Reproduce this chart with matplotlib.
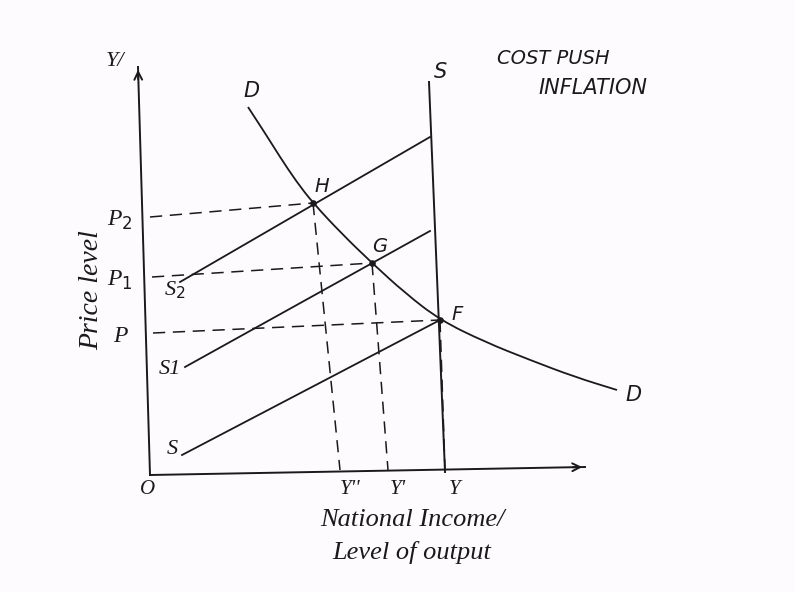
import numpy as np
import matplotlib
matplotlib.use("Agg")
import matplotlib.pyplot as plt
from matplotlib.path import Path
from matplotlib.patches import PathPatch

# ---- diagram data (origin O at (0,0)) ----
demand_x = [98, 115, 130, 146, 163, 192, 222, 255, 290, 335, 380, 425, 467]
demand_y = [365, 339, 315, 291, 269, 238, 209, 179, 152, 130, 112, 95, 82]

supply_names = ["S2", "S1", "S"]
supply_x = [[30, 280], [35, 280], [32, 290]]
supply_y = [[190, 335], [105, 241], [17, 152]]

vertical_s_x = [279, 295]
vertical_s_y = [390, 0]

eq_names = ["H", "G", "F"]
eq_x = [163, 222, 290]
eq_y = [269, 209, 152]

price_labels = ["P$_2$", "P$_1$", "P"]
price_axis_x = [0, 2, 3]
price_axis_y = [255, 195, 139]

output_labels = ["Y''", "Y'", "Y"]
output_axis_x = [190, 238, 295]

yaxis_x = [0, -12]
yaxis_y = [-3, 405]
xaxis_x = [0, 435]
xaxis_y = [-3, 5]

BG = "#fdfbfd"
INK = "#1a1a1a"

fig = plt.figure(figsize=(7.95, 5.92), dpi=100, facecolor=BG)
ax = fig.add_axes([0, 0, 1, 1])
ax.set_facecolor(BG)
ax.set_xlim(-150, 645)
ax.set_ylim(-120, 472)
ax.axis("off")

hand = dict(family="Liberation Serif", style="italic", color=INK)
caps = dict(family="DejaVu Sans", style="oblique", color=INK)

# axes with arrows
ax.plot(yaxis_x, yaxis_y, color=INK, lw=1.4)
ax.annotate("", xy=(yaxis_x[1], yaxis_y[1]), xytext=(yaxis_x[1] + 0.3, yaxis_y[1] - 15),
            arrowprops=dict(arrowstyle="->", color=INK, lw=1.4, mutation_scale=14))
ax.plot(xaxis_x, xaxis_y, color=INK, lw=1.4)
ax.annotate("", xy=(xaxis_x[1], xaxis_y[1]), xytext=(xaxis_x[1] - 15, xaxis_y[1] - 0.3),
            arrowprops=dict(arrowstyle="->", color=INK, lw=1.4, mutation_scale=14))

# demand curve: smooth quadratic path through the read points (midpoint smoothing)
pts = list(zip(demand_x, demand_y))
verts = [pts[0]]
codes = [Path.MOVETO]
for i in range(1, len(pts) - 1):
    mid = ((pts[i][0] + pts[i + 1][0]) / 2, (pts[i][1] + pts[i + 1][1]) / 2)
    verts += [pts[i], mid]
    codes += [Path.CURVE3, Path.CURVE3]
verts.append(pts[-1])
codes.append(Path.LINETO)
ax.add_patch(PathPatch(Path(verts, codes), facecolor="none", edgecolor=INK, lw=1.3))

# vertical supply
ax.plot(vertical_s_x, vertical_s_y, color=INK, lw=1.4)

# supply lines
for sx, sy in zip(supply_x, supply_y):
    ax.plot(sx, sy, color=INK, lw=1.3)

# dashed guides
for px, py, ex, ey in zip(price_axis_x, price_axis_y, eq_x, eq_y):
    ax.plot([px, ex], [py, ey], color=INK, lw=1.1, ls=(0, (8, 5)))
for ox, ex, ey in zip(output_axis_x, eq_x, eq_y):
    ax.plot([ex, ox], [ey, 2], color=INK, lw=1.1, ls=(0, (8, 5)))

# equilibrium points
ax.scatter(eq_x, eq_y, s=14, color=INK, zorder=5)

# labels
eq_off = [(9, 17), (8, 17), (17, 5)]
for n, x, y, (dx, dy) in zip(eq_names, eq_x, eq_y, eq_off):
    ax.text(x + dx, y + dy, n, fontsize=14, ha="center", va="center", **caps)

for lab, y in zip(price_labels, price_axis_y):
    ax.text(-30, y - 3, lab, fontsize=17, ha="center", va="center", **hand)

sup_lab = ["S$_2$", "S1", "S"]
sup_off = [(-5, -8), (-15, -3), (-10, 6)]
for lab, sx, sy, (dx, dy) in zip(sup_lab, supply_x, supply_y, sup_off):
    ax.text(sx[0] + dx, sy[0] + dy, lab, fontsize=16, ha="center", va="center", **hand)

for lab, x in zip(output_labels, output_axis_x):
    ax.text(x + 10, -17, lab, fontsize=15, ha="center", va="center", **hand)

ax.text(-2, -18, "O", fontsize=15, ha="center", va="center", **hand)
ax.text(-35, 410, "Y/", fontsize=16, ha="center", va="center", **hand)
ax.text(demand_x[0] + 4, demand_y[0] + 16, "D", fontsize=15, ha="center", va="center", **caps)
ax.text(demand_x[-1] + 17, demand_y[-1] - 5, "D", fontsize=15, ha="center", va="center", **caps)
ax.text(vertical_s_x[0] + 12, vertical_s_y[0] + 10, "S", fontsize=15, ha="center", va="center", **caps)

ax.text(403, 414, "COST PUSH", fontsize=14, ha="center", va="center", **caps)
ax.text(443, 384, "INFLATION", fontsize=15, ha="center", va="center", **caps)

ax.text(-58, 182, "Price level", fontsize=20, rotation=90, ha="center", va="center", **hand)
ax.text(262, -48, "National Income/", fontsize=19, ha="center", va="center", **hand)
ax.text(262, -81, "Level of output", fontsize=19, ha="center", va="center", **hand)

fig.savefig("out.png", dpi=100, facecolor=BG)
